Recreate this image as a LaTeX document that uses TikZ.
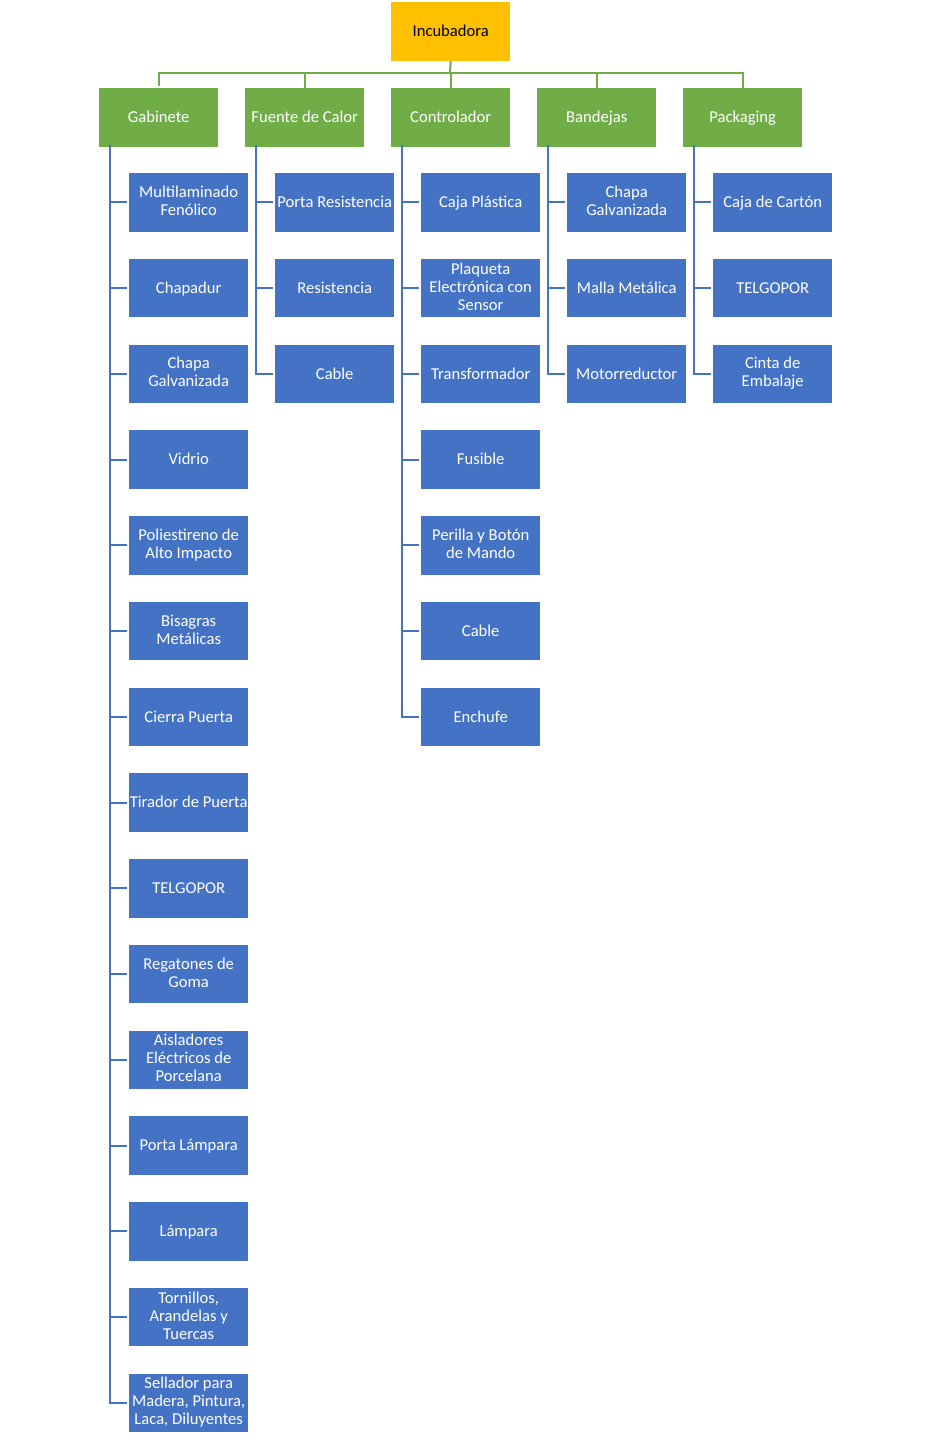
\documentclass[tikz,border=0pt]{standalone}
\usepackage{fontspec}
\setmainfont{Carlito}
\definecolor{gold}{HTML}{FFC000}
\definecolor{lgreen}{HTML}{70AD47}
\definecolor{mblue}{HTML}{4472C4}
\begin{document}
\begin{tikzpicture}[x=1pt,y=-1pt,
  box/.style={rectangle,minimum width=119pt,minimum height=58.5pt,inner sep=0pt,align=center,font=\fontsize{16.6}{18}\selectfont,anchor=north west,execute at begin node=\rule{0pt}{14.2pt},execute at end node=\rule[-3.8pt]{0pt}{3.8pt}},
  rootbox/.style={box,fill=gold,text=black},
  catbox/.style={box,fill=lgreen,text=white},
  itembox/.style={box,fill=mblue,text=white},
  gline/.style={draw=lgreen,line width=2pt},
  bline/.style={draw=mblue,line width=2pt}]
\path[use as bounding box,fill=white] (0,0) rectangle (931,1439);
\node[rootbox] (root) at (391,2) {Incubadora};
\coordinate (bus) at (450,73);
\foreach \t/\n [count=\i from 0] in {Gabinete/c0,Fuente de Calor/c1,Controlador/c2,Bandejas/c3,Packaging/c4}{
  \node[catbox] (\n) at (99+146*\i,88) {\t};
}
\draw[gline] (root.south) -- (bus);
\draw[gline] (c0.north) ++(0,-2) |- (bus) -| ([yshift=-2pt]c4.north);
\foreach \n in {c1,c2,c3}{ \draw[gline] ([yshift=-2pt]\n.north) -- (\n.north |- bus); }
% Gabinete
\foreach \t [count=\i from 0] in {{Multilaminado\\Fenólico},{Chapadur},{Chapa\\Galvanizada},{Vidrio},{Poliestireno de\\Alto Impacto},{Bisagras\\Metálicas},{Cierra Puerta},{Tirador de Puerta},{TELGOPOR},{Regatones de\\Goma},{Aisladores\\Eléctricos de\\Porcelana},{Porta Lámpara},{Lámpara},{Tornillos,\\Arandelas y\\Tuercas},{Sellador para\\Madera, Pintura,\\Laca, Diluyentes}}{
  \node[itembox] (g\i) at (129,173+85.75*\i) {\t};
  \draw[bline] ([xshift=11pt,yshift=2pt]c0.south west) |- ([xshift=-2pt]g\i.west);
}
% Fuente de Calor
\foreach \t [count=\i from 0] in {{Porta Resistencia},{Resistencia},{Cable}}{
  \node[itembox] (f\i) at (275,173+85.75*\i) {\t};
  \draw[bline] ([xshift=11pt,yshift=2pt]c1.south west) |- ([xshift=-2pt]f\i.west);
}
% Controlador
\foreach \t [count=\i from 0] in {{Caja Plástica},{Plaqueta\\Electrónica con\\Sensor},{Transformador},{Fusible},{Perilla y Botón\\de Mando},{Cable},{Enchufe}}{
  \node[itembox] (k\i) at (421,173+85.75*\i) {\t};
  \draw[bline] ([xshift=11pt,yshift=2pt]c2.south west) |- ([xshift=-2pt]k\i.west);
}
% Bandejas
\foreach \t [count=\i from 0] in {{Chapa\\Galvanizada},{Malla Metálica},{Motorreductor}}{
  \node[itembox] (b\i) at (567,173+85.75*\i) {\t};
  \draw[bline] ([xshift=11pt,yshift=2pt]c3.south west) |- ([xshift=-2pt]b\i.west);
}
% Packaging
\foreach \t [count=\i from 0] in {{Caja de Cartón},{TELGOPOR},{Cinta de\\Embalaje}}{
  \node[itembox] (p\i) at (713,173+85.75*\i) {\t};
  \draw[bline] ([xshift=11pt,yshift=2pt]c4.south west) |- ([xshift=-2pt]p\i.west);
}
\end{tikzpicture}
\end{document}
